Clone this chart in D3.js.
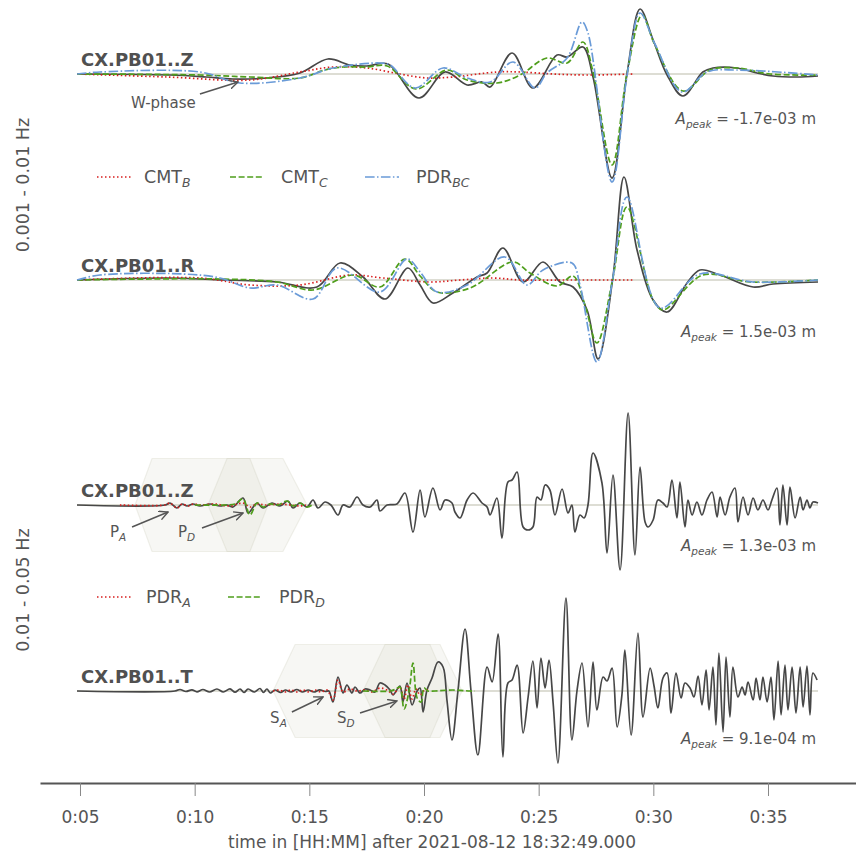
<!DOCTYPE html>
<html><head><meta charset="utf-8">
<script src="https://cdn.jsdelivr.net/npm/d3@7"></script>
<style>body{margin:0;background:#fff}svg{display:block}text{font-family:"DejaVu Sans",sans-serif}</style>
</head><body><svg id="chart" width="856" height="852"></svg>
<script>
// ---------- DATA (time in minutes after reference, amplitude normalised) ----------
const tickMinutes = [5, 10, 15, 20, 25, 30, 35];
const tickLabels = ["0:05", "0:10", "0:15", "0:20", "0:25", "0:30", "0:35"];
const stationLabels = ["CX.PB01..Z", "CX.PB01..R", "CX.PB01..Z", "CX.PB01..T"];
const peakLabels = ["-1.7e-03", "1.5e-03", "1.3e-03", "9.1e-04"];
const bandLabels = ["0.001 - 0.01 Hz", "0.01 - 0.05 Hz"];

const topZObs = [[4.87,0],[8.92,-0.01],[10.5,-0.03],[11.67,-0.05],[13.15,-0.04],[14.59,0.01],[15.81,0.15],[16.77,0.09],[17.51,0.08],[18.43,0.10],[19.78,-0.24],[20.92,0.02],[21.88,-0.11],[22.53,-0.08],[22.88,-0.13],[23.84,0.21],[24.75,-0.14],[25.80,0.19],[26.24,0.17],[26.93,0.27],[27.37,-0.03],[28.20,-1.04],[28.85,0.0],[29.42,0.65],[29.99,0.34],[30.60,-0.01],[31.29,-0.22],[32.16,0.02],[32.60,0.06],[33.65,0.06],[34.52,0.01],[35.22,-0.02],[36.26,-0.03],[37.18,-0.02]];
const topZCmtB = [[4.87,0],[8.79,-0.03],[12.41,-0.06],[14.59,0.02],[16.03,0.07],[17.51,0.06],[18.95,0.0],[20.13,-0.04],[21.26,-0.03],[23.18,0.02],[24.19,0.02],[25.62,0.0],[27.11,-0.01],[29.11,0.0]];
const topZCmtC = [[4.87,0],[10.23,-0.01],[12.41,-0.03],[14.59,-0.04],[15.68,0.04],[16.47,0.07],[17.51,0.07],[18.39,0.08],[19.65,-0.15],[21.00,0.04],[21.88,-0.06],[23.18,-0.09],[24.19,-0.01],[25.36,0.16],[26.24,0.11],[26.93,0.32],[27.37,0.02],[28.20,-0.91],[28.85,0.0],[29.51,0.59],[30.05,0.30],[31.29,-0.17],[32.47,0.04],[33.65,0.06],[35.09,0.0],[37.18,-0.01]];
const topZPdrBC = [[4.87,0],[5.87,0.02],[10.23,0.02],[11.98,-0.09],[14.59,-0.04],[16.03,0.06],[18.08,0.11],[18.52,0.09],[19.61,-0.14],[20.83,0.06],[21.88,-0.04],[22.88,-0.08],[23.88,0.12],[24.84,-0.14],[25.36,0.01],[26.24,0.16],[26.89,0.52],[27.15,0.41],[28.20,-1.08],[28.85,-0.02],[29.42,0.61],[30.07,0.30],[31.25,-0.18],[32.34,0.02],[33.65,0.04],[37.18,-0.01]];

const rObs = [[4.87,0],[8.79,0.02],[11.24,0],[13.59,-0.02],[15.33,-0.07],[16.34,0.17],[17.34,0.03],[18.30,-0.19],[19.30,0.12],[19.83,-0.05],[20.39,-0.23],[21.26,-0.13],[22.31,0.03],[22.75,0.07],[23.44,0.32],[24.32,-0.02],[25.19,0.18],[25.93,-0.02],[26.50,-0.07],[27.11,-0.30],[27.59,-0.79],[28.24,0.03],[28.72,1.03],[29.29,0.30],[29.99,-0.20],[30.60,-0.32],[31.47,-0.03],[32.03,0.10],[32.91,0.05],[34.35,-0.07],[35.22,-0.04],[37.18,-0.02]];
const rCmtB = [[4.87,0],[10.23,0.02],[12.41,-0.05],[14.59,-0.05],[16.77,0.05],[18.21,0.02],[20.26,-0.02],[21.57,0],[23.01,0.02],[24.19,0],[26.37,0],[29.11,0]];
const rCmtC = [[4.87,0],[8.05,0.01],[11.10,0.01],[13.59,-0.02],[15.16,-0.10],[16.90,0.05],[18.08,-0.07],[19.17,0.21],[19.83,0.04],[20.57,-0.12],[22.01,-0.08],[23.88,0.18],[24.62,0.07],[25.80,-0.06],[26.50,0.04],[27.02,-0.25],[27.54,-0.63],[28.22,0.0],[28.85,0.73],[29.99,-0.20],[30.42,-0.30],[32.16,0.05],[34.21,-0.02],[37.18,0]];
const rPdrBC = [[4.87,0],[5.87,0.05],[9.5,0.06],[11.10,0.02],[12.41,-0.08],[13.59,-0.05],[15.16,-0.19],[16.21,0.12],[18.08,-0.12],[19.26,0.21],[19.83,0.08],[20.57,-0.12],[21.88,-0.05],[23.53,0.23],[24.49,-0.05],[25.19,0.10],[26.45,0.17],[26.80,-0.05],[27.54,-0.82],[28.22,0.0],[28.85,0.83],[30.29,-0.28],[32.03,0.06],[34.35,-0.02],[37.18,0]];

const lzObs = [[4.87,0],[8.71,0],[8.92,0.02],[9.10,-0.01],[9.23,-0.03],[9.45,0.01],[9.67,-0.01],[9.93,0.01],[10.23,-0.01],[10.67,0.01],[11.10,-0.01],[11.41,0],[11.67,-0.02],[12.11,0.07],[12.33,-0.08],[12.72,0.02],[12.98,-0.03],[13.37,0.02],[13.72,-0.01],[14.07,0.04],[14.29,-0.03],[14.59,0.02],[14.90,-0.02],[15.16,0.05],[15.38,-0.03],[15.68,0.03],[15.94,0],[16.25,-0.10],[16.47,0],[16.77,-0.02],[17.08,0.08],[17.34,0],[17.65,-0.02],[17.95,0.05],[18.08,-0.06],[18.39,0],[18.82,0.01],[19.17,0.12],[19.52,-0.27],[19.83,0.15],[20.04,-0.12],[20.39,0.17],[20.70,-0.05],[20.92,0.05],[21.22,0.02],[21.35,-0.07],[21.57,-0.13],[21.88,0.05],[22.14,0.12],[22.53,0.02],[22.75,-0.02],[22.88,-0.10],[23.18,0.07],[23.40,-0.33],[23.66,0.23],[23.84,0.25],[24.06,0.33],[24.32,-0.22],[24.54,-0.25],[24.75,-0.22],[24.93,0.08],[25.10,0.05],[25.28,0.20],[25.49,0.15],[25.71,-0.10],[26.02,0.16],[26.28,-0.08],[26.45,0],[26.58,-0.27],[26.80,-0.10],[26.98,-0.13],[27.15,0],[27.37,0.52],[27.76,0.22],[27.98,-0.48],[28.24,0.30],[28.55,-0.65],[28.90,0.92],[29.20,-0.50],[29.42,0.38],[29.64,-0.17],[29.77,-0.22],[29.99,-0.15],[30.20,0.05],[30.42,0.02],[30.60,-0.02],[30.81,0.25],[31.03,-0.13],[31.16,0.23],[31.38,-0.22],[31.51,0.05],[31.69,-0.10],[31.90,0.03],[32.12,-0.10],[32.34,0.05],[32.56,0.13],[32.78,-0.12],[32.91,0.08],[33.13,-0.10],[33.34,0.08],[33.56,0.17],[33.69,-0.17],[33.91,0.08],[34.13,-0.10],[34.35,0.07],[34.56,-0.05],[34.78,0.05],[35.00,-0.05],[35.17,0.05],[35.39,0.17],[35.52,-0.20],[35.65,0.20],[35.83,-0.20],[35.96,0.18],[36.18,-0.13],[36.40,0.08],[36.53,-0.05],[36.70,0.05],[36.83,-0.03],[36.96,0.03],[37.18,0.02]];
const lzPdrA = [[6.74,0],[8.71,0],[8.92,0.02],[9.23,-0.03],[9.45,0.01],[9.71,-0.01],[9.93,0.01],[10.23,0],[10.89,0.01],[11.54,-0.01],[12.11,0.02],[12.41,-0.02],[12.72,0.01],[13.07,0],[13.72,0.01],[14.16,0],[14.59,-0.01],[14.85,0]];
const lzPdrD = [[10.01,0],[11.32,0],[11.76,0.01],[12.11,0.06],[12.41,-0.10],[12.72,0.02],[12.98,-0.02],[13.28,0.01],[13.63,0],[14.03,0.04],[14.29,-0.01],[14.59,0.02],[14.90,-0.02],[15.12,0]];

const ltObs = [[4.87,0],[9.14,0],[9.36,0.015],[9.62,-0.005],[9.88,0.012],[10.1,-0.008],[10.36,0.015],[10.65,-0.01],[10.97,0.02],[11.25,-0.01],[11.54,0.022],[11.76,-0.012],[11.98,0.02],[12.15,-0.015],[12.33,0.02],[12.6,-0.01],[12.85,0.025],[13.0,-0.015],[13.15,0.02],[13.3,-0.02],[13.5,0.01],[13.75,-0.015],[13.95,0.01],[14.2,-0.01],[14.45,0.015],[14.7,-0.01],[14.95,0.01],[15.2,-0.01],[15.45,0.012],[15.7,-0.005],[15.85,0],[16.03,-0.11],[16.25,0.14],[16.47,-0.02],[16.64,0.06],[16.86,-0.02],[16.99,0.04],[17.21,-0.02],[17.43,0.02],[17.65,0.01],[17.86,-0.01],[18.08,0.08],[18.30,0.06],[18.52,0.01],[18.65,-0.04],[18.95,0.05],[19.08,-0.11],[19.26,0.08],[19.48,-0.14],[19.70,0],[19.83,0.03],[19.96,-0.21],[20.13,0.01],[20.35,0.13],[20.61,0.29],[20.83,0.24],[21.00,-0.09],[21.22,-0.49],[21.48,0],[21.79,0.62],[22.05,0],[22.35,-0.64],[22.75,0.24],[22.97,0.09],[23.23,0.57],[23.44,-0.66],[23.66,0.08],[23.84,0.11],[24.06,0.26],[24.32,-0.42],[24.54,-0.06],[24.75,0.30],[24.93,-0.17],[25.10,0.33],[25.28,0.03],[25.45,0.31],[25.63,-0.12],[25.84,-0.72],[26.19,0.93],[26.45,-0.49],[26.67,0],[26.89,0.28],[27.15,-0.36],[27.37,0.29],[27.54,-0.19],[27.81,0.14],[27.98,0.10],[28.20,0.23],[28.42,-0.36],[28.63,-0.04],[28.76,0.41],[29.03,-0.44],[29.33,0.58],[29.55,-0.26],[29.86,0.23],[30.03,0.05],[30.20,-0.17],[30.42,0.13],[30.60,0.18],[30.77,-0.22],[30.99,0.18],[31.21,-0.07],[31.38,0.08],[31.60,0.03],[31.77,-0.06],[31.95,0.15],[32.12,-0.14],[32.30,0.21],[32.43,-0.19],[32.60,0.24],[32.73,-0.34],[32.86,0.38],[33.04,-0.41],[33.17,0.34],[33.34,-0.26],[33.47,0.24],[33.69,-0.06],[33.87,0.04],[34.00,-0.04],[34.13,0.09],[34.35,-0.09],[34.48,0.13],[34.65,-0.09],[34.78,0.14],[34.96,-0.11],[35.13,0.14],[35.26,-0.29],[35.44,0.30],[35.57,-0.24],[35.74,0.26],[35.87,-0.19],[36.05,0.24],[36.22,-0.22],[36.40,0.24],[36.53,-0.16],[36.70,0.25],[36.83,-0.24],[36.96,0.18],[37.14,0.11]];
const ltPdrA = [[13.42,0],[13.68,0.01],[13.94,-0.01],[14.20,0.01],[14.46,-0.01],[14.72,0.01],[14.99,-0.01],[15.25,0.01],[15.51,-0.01],[15.77,0.01],[16.03,-0.09],[16.25,0.11],[16.47,-0.01],[16.77,0.02],[17.08,0],[17.43,0.01],[17.73,-0.01],[18.08,0.03],[18.39,0.01],[18.65,-0.03],[18.95,0.04],[19.13,-0.08],[19.30,0.06],[19.48,-0.08],[19.65,0.02],[19.83,-0.04],[20.04,0.01],[20.26,0]];
const ltPdrD = [[17.34,0],[18.52,0],[18.78,0.02],[18.95,0.04],[19.13,-0.18],[19.35,0],[19.52,0.28],[19.70,-0.07],[19.87,-0.11],[20.00,0.03],[20.17,0],[20.48,0],[21.26,0.01],[22.01,0],[22.22,0]];

// taper windows: [start, full-on, full-off, end] in minutes
const lzWindows = [[7.40, 8.14, 12.41, 13.20], [10.58, 11.41, 13.85, 14.90]];
const ltWindows = [[13.42, 14.38, 20.26, 21.13], [17.34, 18.30, 20.70, 21.66]];

// ---------- STYLES ----------
const C = {obs:"#474747", red:"#d81e1e", green:"#4f9e1c", blue:"#6a9bd8", txt:"#555555", zero:"#d2d2c6"};
const dash = {red:"1.5,2.5", green:"6,2.6", blue:"9.6,2.4,1.5,2.4"};

const svg = d3.select("#chart");
const x = d3.scaleLinear().domain([3.256, 38.837]).range([40, 856]);

const traces = [
  {label:stationLabels[0], base:74,  peak:peakLabels[0], peakDy:50, obs:topZObs, syn:[[topZCmtB,"red"],[topZCmtC,"green"],[topZPdrBC,"blue"]]},
  {label:stationLabels[1], base:280, peak:peakLabels[1], peakDy:57, obs:rObs, syn:[[rCmtB,"red"],[rCmtC,"green"],[rPdrBC,"blue"]]},
  {label:stationLabels[2], base:505, peak:peakLabels[2], peakDy:46, obs:lzObs, syn:[[lzPdrA,"red"],[lzPdrD,"green"]], win:lzWindows},
  {label:stationLabels[3], base:691, peak:peakLabels[3], peakDy:53, obs:ltObs, syn:[[ltPdrA,"red"],[ltPdrD,"green"]], win:ltWindows}
];
traces.forEach(t => { t.y = d3.scaleLinear().domain([-1, 1]).range([t.base + 100, t.base - 100]); });

// windows
const winH = 0.465;
traces.forEach(t => {
  if (!t.win) return;
  t.win.forEach(w => {
    const pts = [[w[0], 0], [w[1], winH], [w[2], winH], [w[3], 0]];
    const area = d3.area().x(d => x(d[0])).y0(d => t.y(-d[1])).y1(d => t.y(d[1]));
    svg.append("path").attr("d", area(pts))
      .attr("fill", "rgb(200,200,180)").attr("fill-opacity", 0.15)
      .attr("stroke", "rgb(190,190,170)").attr("stroke-opacity", 0.22).attr("stroke-width", 1.2);
  });
});

// zero lines
traces.forEach(t => {
  svg.append("line").attr("x1", x(4.87)).attr("x2", x(37.18)).attr("y1", t.y(0)).attr("y2", t.y(0))
    .attr("stroke", C.zero).attr("stroke-width", 1.3);
});

// traces
traces.forEach(t => {
  const ln = d3.line().x(d => x(d[0])).y(d => t.y(d[1])).curve(d3.curveCatmullRom.alpha(0.5));
  svg.append("path").attr("d", ln(t.obs)).attr("fill", "none").attr("stroke", C.obs).attr("stroke-width", 1.7);
  t.syn.forEach(([data, col]) => {
    svg.append("path").attr("d", ln(data)).attr("fill", "none").attr("stroke", C[col])
      .attr("stroke-width", 1.7).attr("stroke-dasharray", dash[col]);
  });
  svg.append("text").attr("x", 81).attr("y", t.base - 8).attr("font-weight", "bold").attr("font-size", 18)
    .attr("fill", "#505050").text(t.label);
  const pk = svg.append("text").attr("x", 816).attr("y", t.base + t.peakDy).attr("text-anchor", "end")
    .attr("font-size", 15).attr("fill", C.txt);
  pk.append("tspan").attr("font-style", "italic").text("A");
  pk.append("tspan").attr("font-style", "italic").attr("font-size", 10.5).attr("dy", 4).text("peak");
  pk.append("tspan").attr("dy", -4).text(" = " + t.peak + " m");
});

// legends
function legend(items, yLine) {
  items.forEach(it => {
    svg.append("line").attr("x1", it.x0).attr("x2", it.x0 + 34).attr("y1", yLine).attr("y2", yLine)
      .attr("stroke", C[it.col]).attr("stroke-width", 1.7).attr("stroke-dasharray", dash[it.col]);
    const tx = svg.append("text").attr("x", it.tx).attr("y", yLine + 6).attr("font-size", 17.5).attr("fill", C.txt);
    tx.append("tspan").text(it.main);
    tx.append("tspan").attr("font-size", 12.5).attr("font-style", "italic").attr("dy", 4).text(it.sub);
  });
}
legend([{x0:97, tx:144, col:"red", main:"CMT", sub:"B"}, {x0:230, tx:281, col:"green", main:"CMT", sub:"C"}, {x0:365, tx:416, col:"blue", main:"PDR", sub:"BC"}], 177);
legend([{x0:97, tx:146, col:"red", main:"PDR", sub:"A"}, {x0:228, tx:279, col:"green", main:"PDR", sub:"D"}], 597);

// annotations
svg.append("defs").append("marker").attr("id", "ah").attr("viewBox", "0 0 10 10")
  .attr("refX", 9).attr("refY", 5).attr("markerWidth", 10).attr("markerHeight", 10)
  .attr("markerUnits", "userSpaceOnUse").attr("orient", "auto")
  .append("path").attr("d", "M0,0.5 L9,5 L0,9.5").attr("fill", "none").attr("stroke", "#555").attr("stroke-width", 1.4);
const annots = [
  {tr:0, main:"W-phase", sub:"", text:[7.22, -0.34], tail:[10.23, -0.20], tip:[11.89, -0.08]},
  {tr:2, main:"P", sub:"A", text:[6.31, -0.32], tail:[7.27, -0.22], tip:[8.84, -0.07]},
  {tr:2, main:"P", sub:"D", text:[9.27, -0.32], tail:[10.32, -0.23], tip:[12.11, -0.08]},
  {tr:3, main:"S", sub:"A", text:[13.29, -0.32], tail:[14.24, -0.21], tip:[15.60, -0.06]},
  {tr:3, main:"S", sub:"D", text:[16.21, -0.32], tail:[17.21, -0.22], tip:[18.82, -0.10]}
];
annots.forEach(a => {
  const ys = traces[a.tr].y;
  svg.append("line").attr("x1", x(a.tail[0])).attr("y1", ys(a.tail[1])).attr("x2", x(a.tip[0])).attr("y2", ys(a.tip[1]))
    .attr("stroke", "#555").attr("stroke-width", 1.5).attr("marker-end", "url(#ah)");
  const tx = svg.append("text").attr("x", x(a.text[0])).attr("y", ys(a.text[1])).attr("font-size", 15).attr("fill", C.txt);
  tx.append("tspan").text(a.main);
  if (a.sub) tx.append("tspan").attr("font-size", 10.5).attr("font-style", "italic").attr("dy", 4).text(a.sub);
});

// band labels
svg.append("text").attr("transform", "translate(29,185) rotate(-90)").attr("text-anchor", "middle")
  .attr("font-size", 17.5).attr("fill", C.txt).text(bandLabels[0]);
svg.append("text").attr("transform", "translate(29,590) rotate(-90)").attr("text-anchor", "middle")
  .attr("font-size", 17.5).attr("fill", C.txt).text(bandLabels[1]);

// x axis
const axis = d3.axisBottom(x).tickValues(tickMinutes).tickFormat((d, i) => tickLabels[i]).tickSize(13).tickSizeOuter(0).tickPadding(15);
const gA = svg.append("g").attr("transform", "translate(0,783)").call(axis);
gA.select(".domain").attr("stroke", "#555").attr("stroke-width", 2.2);
gA.selectAll(".tick line").attr("stroke", "#888").attr("stroke-width", 1);
gA.selectAll(".tick text").attr("font-size", 17).attr("fill", C.txt).attr("font-family", "DejaVu Sans");
svg.append("text").attr("x", 432).attr("y", 848).attr("text-anchor", "middle").attr("font-size", 17)
  .attr("fill", C.txt).text("time in [HH:MM] after 2021-08-12 18:32:49.000");
</script></body></html>
